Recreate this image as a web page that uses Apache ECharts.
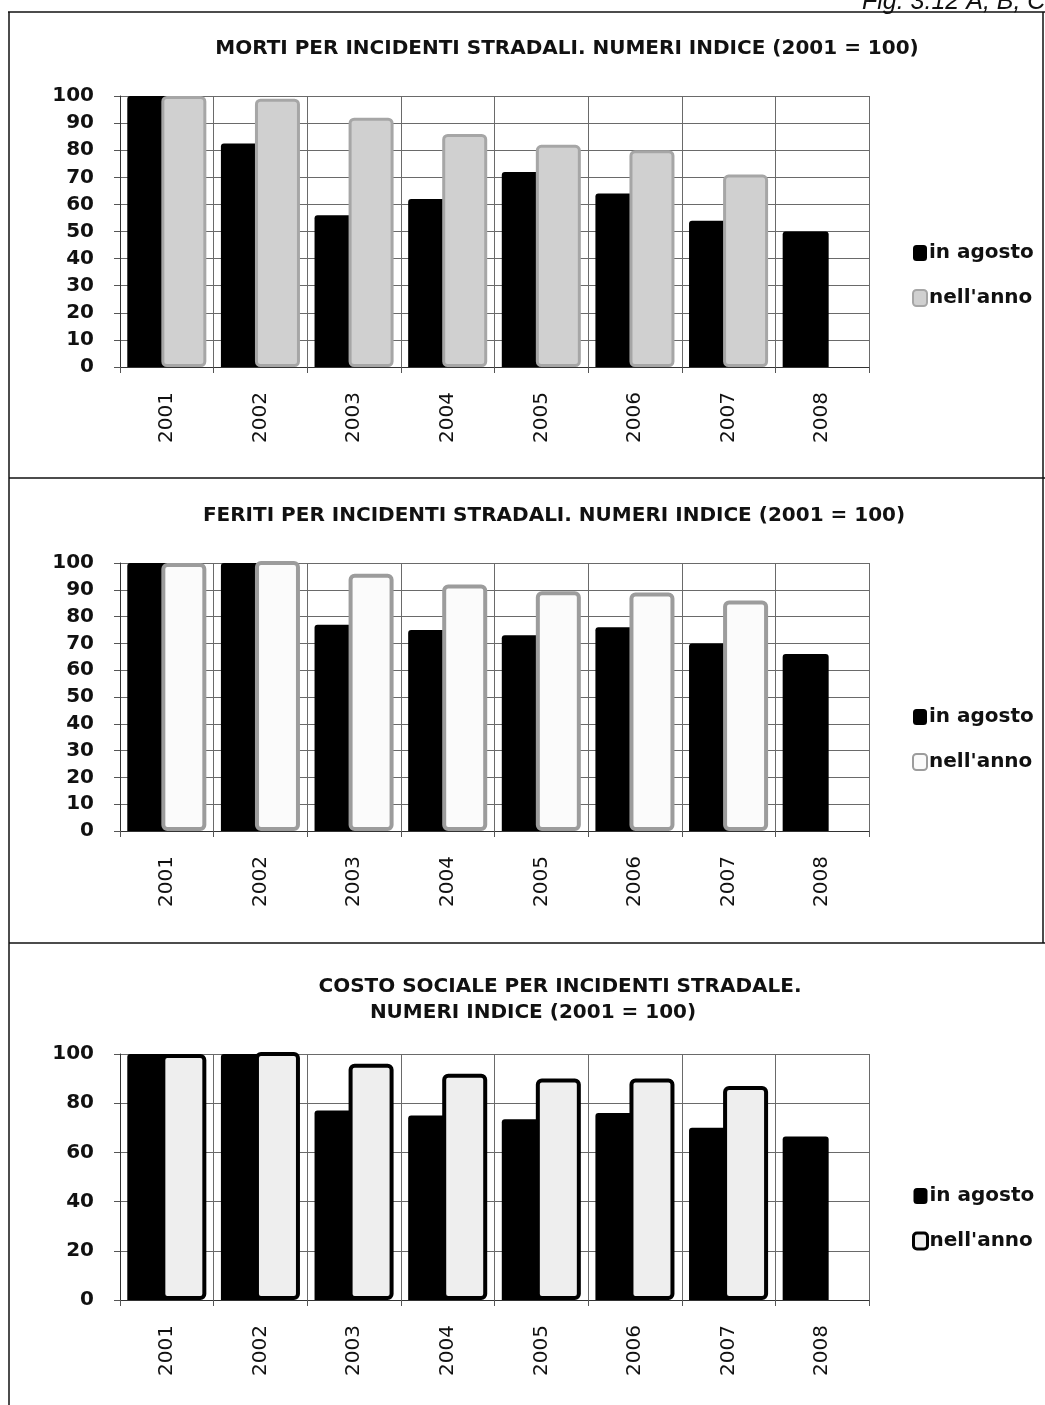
<!DOCTYPE html>
<html>
<head>
<meta charset="utf-8">
<script src="https://cdn.jsdelivr.net/npm/echarts@6/dist/echarts.min.js"></script>
<style>
html,body{margin:0;padding:0;background:#fff;}
#c{width:1045px;height:1405px;}
</style>
</head>
<body>
<div id="c"></div>
<script>
// ---- data ----
const years = ['2001', '2002', '2003', '2004', '2005', '2006', '2007', '2008'];
const seriesNames = ['in agosto', "nell'anno"];

const mortiAgosto = [100, 82.5, 56, 62, 72, 64, 54, 50];
const mortiAnno = [100, 99, 92, 86, 82, 80, 71, null];

const feritiAgosto = [100, 100, 77, 75, 73, 76, 70, 66];
const feritiAnno = [100, 101, 96, 92, 89.5, 89, 86, null];

const costoAgosto = [100, 100, 77, 75, 73.5, 76, 70, 66.5];
const costoAnno = [100, 101, 96, 92, 90, 90, 87, null];

const titles = [
  ['MORTI PER INCIDENTI STRADALI. NUMERI INDICE (2001 = 100)'],
  ['FERITI PER INCIDENTI STRADALI. NUMERI INDICE (2001 = 100)'],
  ['COSTO SOCIALE PER INCIDENTI STRADALE.', 'NUMERI INDICE (2001 = 100)']
];
const yIntervals = [10, 10, 20];
const caption = 'Fig. 3.12 A, B, C';

// ---- layout / style ----
const FONT = 'DejaVu Sans';
const panels = [
  { top: 96, height: 271, legendTop: 238, agosto: mortiAgosto, anno: mortiAnno,
    annoStyle: { color: '#d0d0d0', borderColor: '#a6a6a6', borderWidth: 3, borderRadius: 4 } },
  { top: 563, height: 268, legendTop: 702, agosto: feritiAgosto, anno: feritiAnno,
    annoStyle: { color: '#fbfbfb', borderColor: '#9c9c9c', borderWidth: 4, borderRadius: 4 } },
  { top: 1054, height: 246, legendTop: 1181, agosto: costoAgosto, anno: costoAnno,
    annoStyle: { color: '#eeeeee', borderColor: '#000000', borderWidth: 4, borderRadius: 4 } }
];

const grid = [], xAxis = [], yAxis = [], series = [], legend = [];
panels.forEach((p, i) => {
  grid.push({ left: 120, width: 749, top: p.top, height: p.height, containLabel: false });
  xAxis.push({
    type: 'category', gridIndex: i, data: years, boundaryGap: true,
    axisLine: { show: true, lineStyle: { color: '#333', width: 1 } },
    axisTick: { show: true, length: 6, lineStyle: { color: '#555' } },
    splitLine: { show: true, lineStyle: { color: '#6a6a6a', width: 1 } },
    axisLabel: { rotate: 90, margin: 25, fontFamily: FONT, fontSize: 20, color: '#111' }
  });
  yAxis.push({
    type: 'value', gridIndex: i, min: 0, max: 100, interval: yIntervals[i],
    axisLine: { show: true, lineStyle: { color: '#333', width: 1 } },
    axisTick: { show: true, length: 6, lineStyle: { color: '#555' } },
    splitLine: { show: true, lineStyle: { color: '#6a6a6a', width: 1 } },
    axisLabel: { margin: 26, fontFamily: FONT, fontWeight: 'bold', fontSize: 20, color: '#111' }
  });
  const n1 = seriesNames[0] + '|' + i, n2 = seriesNames[1] + '|' + i;
  series.push({
    name: n1, type: 'bar', xAxisIndex: i, yAxisIndex: i, data: p.agosto,
    barWidth: 46, barGap: '-26%', clip: true,
    itemStyle: { color: '#000', borderRadius: [3, 3, 0, 0] }
  });
  series.push({
    name: n2, type: 'bar', xAxisIndex: i, yAxisIndex: i, data: p.anno,
    barWidth: 45, barGap: '-26%', clip: true,
    itemStyle: p.annoStyle
  });
  legend.push({
    orient: 'vertical', left: 907, top: p.legendTop, itemWidth: 14, itemHeight: 16, itemGap: 25,
    selectedMode: false,
    data: [
      { name: n1, icon: 'roundRect', itemStyle: { color: '#000', borderWidth: 0 } },
      { name: n2, icon: 'roundRect', itemStyle: { color: p.annoStyle.color, borderColor: p.annoStyle.borderColor, borderWidth: i === 2 ? 3 : 2 } }
    ],
    formatter: name => name.split('|')[0],
    textStyle: { fontFamily: FONT, fontWeight: 'bold', fontSize: 20, color: '#111', lineHeight: 20, padding: [0, 0, 0, -3] }
  });
});

const titleSpecs = [
  { text: titles[0][0], x: 567, y: 49 },
  { text: titles[1][0], x: 554, y: 516 },
  { text: titles[2][0], x: 560, y: 987 },
  { text: titles[2][1], x: 533, y: 1013 }
];

const graphic = [];
titleSpecs.forEach(t => graphic.push({
  type: 'text', x: t.x, y: t.y, silent: true,
  style: { text: t.text, font: 'bold 20px "' + FONT + '"', fill: '#111', textAlign: 'center', textVerticalAlign: 'middle' }
}));
graphic.push({
  type: 'text', x: 862, y: 15, silent: true,
  style: { text: caption, font: 'italic 25px "Liberation Sans"', fill: '#111', textAlign: 'left', textVerticalAlign: 'bottom' }
});
const lineStyle = { stroke: '#111', lineWidth: 1.5 };
[[8, 12, 1045, 12], [9, 12, 9, 1405], [9, 478, 1045, 478], [9, 943, 1045, 943], [1043, 12, 1043, 943]].forEach(s =>
  graphic.push({ type: 'line', silent: true, shape: { x1: s[0], y1: s[1], x2: s[2], y2: s[3] }, style: lineStyle }));

const chart = echarts.init(document.getElementById('c'), null, { renderer: 'canvas' });
chart.setOption({
  animation: false,
  backgroundColor: '#fff',
  grid, xAxis, yAxis, series, legend, graphic
});
</script>
</body>
</html>
